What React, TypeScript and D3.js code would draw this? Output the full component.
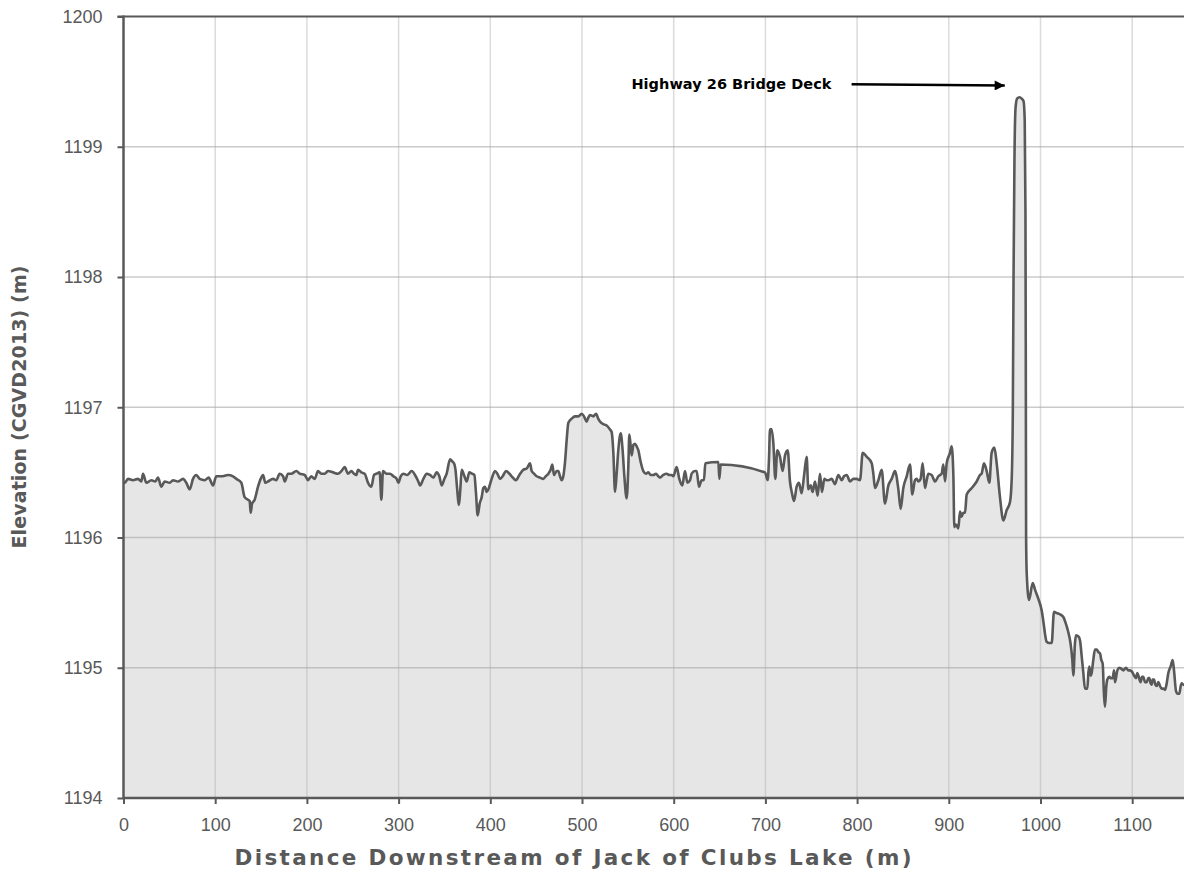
import React, { useEffect, useRef } from 'react'
import * as d3 from 'd3'

// profile, metres
const distance = [
  0, 1.3, 4.9, 10.4, 15.8, 19.4, 21.3, 24.9, 30.4, 34.7, 37.6, 41.3, 44.9, 50.4, 54.0, 59.4, 64.9, 68.5, 72.2, 75.8,
  79.4, 83.1, 88.5, 92.9, 97.6, 101.2, 106.7, 114.0, 119.4, 123.1, 128.5, 132.1, 135.8, 137.6, 138.7, 140.2, 143.0, 146.7, 149.6, 152.2,
  154.7, 157.6, 163.1, 166.7, 170.3, 174.0, 175.8, 179.4, 183.0, 188.5, 192.1, 197.6, 201.2, 204.8, 208.5, 212.1, 215.7, 219.4, 223.0, 228.5,
  233.9, 237.6, 241.2, 244.8, 248.5, 251.4, 253.9, 255.8, 259.4, 263.0, 266.7, 270.3, 273.2, 275.8, 279.4, 281.2, 283.0, 286.7,
  290.6, 294.3, 297.9, 299.7, 302.3, 305.2, 309.5, 314.3, 317.9, 321.5, 323.3, 327.0, 330.6, 334.2, 337.9, 341.5, 344.4, 347.0, 349.9, 352.4,
  356.1, 359.0, 360.4, 362.2, 363.3, 365.9, 367.3, 368.8, 371.3, 374.2, 377.1, 380.0, 382.6, 384.4, 386.2, 388.4, 390.6, 392.4, 394.2, 396.0,
  397.9, 401.5, 405.1, 407.7, 410.6, 413.5, 417.1, 420.8, 423.3, 428.0, 431.7, 436.0, 439.7, 443.3, 445.1, 447.7, 450.6, 454.2, 457.8, 460.4,
  463.3, 465.8, 467.6, 469.5, 472.4, 474.2, 476.0, 477.8, 479.6, 481.5, 483.3, 485.1, 486.9, 489.8, 492.4, 496.0, 499.6, 502.2, 505.1, 506.9,
  508.7, 512.3, 515.3, 517.8, 519.6, 523.3, 526.9, 530.5, 532.3, 534.2, 536.0, 537.8, 539.6, 542.2, 544.3, 546.2, 548.7, 550.5, 551.6, 553.1,
  554.2, 556.0, 557.8, 559.6, 561.4, 564.0, 566.9,
  569.8, 572.3, 574.9, 577.8, 580.7, 583.2, 585.1, 588.7, 592.3, 595.2, 597.8, 599.6, 603.2, 606.1, 609.4, 612.3, 614.9, 617.8, 619.6, 623.2,
  625.0, 627.6, 630.5, 633.0, 634.5, 648.7, 649.8, 651.2, 699.6, 702.5, 703.9, 705.0, 706.8, 708.7, 710.8, 713.0, 715.9, 718.8, 721.4, 724.3,
  726.8, 729.0, 731.2, 734.1, 736.6, 739.5, 742.1, 745.0, 746.8, 749.4, 751.5, 754.1, 757.0, 759.5, 761.7, 764.3, 766.8, 768.6, 772.3, 775.9,
  779.5, 783.2, 785.7, 788.6, 792.3, 795.9, 799.5, 803.2, 806.1, 810.4, 815.9, 817.7, 819.5, 823.2, 826.8, 830.4, 834.1, 837.7, 841.3, 845.0,
  847.5,
  850.4, 854.1, 857.7, 860.2, 863.1, 865.0, 866.8, 869.3, 871.5, 874.0, 875.9, 877.7, 881.3, 885.0, 888.6, 892.2, 894.0, 895.9, 897.7, 901.3,
  903.1, 905.0, 906.0, 907.9, 910.4, 912.2, 914.0, 915.8, 917.7, 919.5, 925.0, 930.4, 934.0, 935.8, 938.4, 941.3, 944.2, 946.7, 949.7, 952.2,
  955.8, 959.5, 963.1, 966.7, 968.6,
  969.8, 970.6, 971.6, 972.8, 974.5, 977.0, 979.5, 981.5, 982.8, 983.6, 984.0, 984.3, 985.0, 987.5, 991.5, 994.0, 997.6,
  1001.3, 1003.8, 1004.9, 1006.7, 1009.6, 1012.2, 1014.7, 1017.6, 1021.3, 1024.9, 1027.1, 1029.3, 1031.4, 1032.9, 1034.7, 1035.8, 1037.6, 1038.7, 1041.3, 1043.1,
  1044.9, 1046.7, 1048.5, 1051.1, 1052.2, 1053.3, 1054.7, 1055.8, 1057.6, 1059.4, 1061.3, 1063.1, 1064.9, 1066.3, 1067.8, 1069.2, 1070.3, 1071.8, 1072.9, 1075.1,
  1076.5, 1078.7, 1080.2, 1081.2, 1082.3, 1083.8, 1086.0, 1088.5, 1090.3, 1093.2, 1095.8, 1097.6, 1099.8, 1102.0, 1104.1, 1105.6, 1106.7, 1109.2, 1110.7, 1112.1,
  1114.0, 1115.8, 1117.6, 1118.7, 1120.1, 1121.2, 1122.3, 1123.8, 1125.2, 1126.7, 1128.5, 1130.3, 1132.1, 1133.9, 1135.8, 1137.6, 1139.4, 1141.9, 1144.1, 1145.6,
  1147.8, 1149.6, 1151.4, 1152.9, 1154.0, 1155.8, 1158.0
]

const elevation = [
  1196.42, 1196.42, 1196.45, 1196.44, 1196.45, 1196.43, 1196.49, 1196.42, 1196.44, 1196.43, 1196.46, 1196.39, 1196.43, 1196.42, 1196.44, 1196.43, 1196.45, 1196.42, 1196.37, 1196.45,
  1196.48, 1196.45, 1196.44, 1196.46, 1196.40, 1196.47, 1196.47, 1196.48, 1196.47, 1196.45, 1196.42, 1196.31, 1196.29, 1196.28, 1196.19, 1196.26, 1196.29, 1196.39, 1196.45, 1196.48,
  1196.42, 1196.43, 1196.45, 1196.44, 1196.49, 1196.47, 1196.43, 1196.49, 1196.49, 1196.51, 1196.49, 1196.48, 1196.44, 1196.47, 1196.45, 1196.51, 1196.49, 1196.49, 1196.51, 1196.50,
  1196.49, 1196.51, 1196.54, 1196.49, 1196.51, 1196.49, 1196.48, 1196.52, 1196.50, 1196.49, 1196.42, 1196.39, 1196.48, 1196.49, 1196.50, 1196.29, 1196.51, 1196.49,
  1196.49, 1196.47, 1196.45, 1196.42, 1196.47, 1196.49, 1196.48, 1196.51, 1196.48, 1196.43, 1196.40, 1196.45, 1196.49, 1196.48, 1196.46, 1196.50, 1196.47, 1196.40, 1196.45, 1196.49,
  1196.60, 1196.58, 1196.57, 1196.51, 1196.42, 1196.25, 1196.37, 1196.52, 1196.48, 1196.43, 1196.50, 1196.49, 1196.48, 1196.34, 1196.17, 1196.26, 1196.31, 1196.38, 1196.39, 1196.35,
  1196.37, 1196.45, 1196.51, 1196.49, 1196.45, 1196.47, 1196.51, 1196.49, 1196.47, 1196.44, 1196.48, 1196.52, 1196.53, 1196.57, 1196.51, 1196.49, 1196.47, 1196.46, 1196.45, 1196.47,
  1196.49, 1196.52, 1196.56, 1196.48, 1196.51, 1196.51, 1196.47, 1196.44, 1196.47, 1196.58, 1196.75, 1196.88, 1196.90, 1196.92, 1196.93, 1196.93, 1196.95, 1196.93, 1196.89, 1196.92,
  1196.94, 1196.93, 1196.95, 1196.91, 1196.89, 1196.87, 1196.86, 1196.83, 1196.81, 1196.65, 1196.35, 1196.49, 1196.67, 1196.80, 1196.67, 1196.47, 1196.30, 1196.54, 1196.79, 1196.70,
  1196.63, 1196.71, 1196.72, 1196.70, 1196.67, 1196.58, 1196.51,
  1196.49, 1196.50, 1196.48, 1196.48, 1196.49, 1196.47, 1196.46, 1196.48, 1196.49, 1196.48, 1196.48, 1196.47, 1196.54, 1196.45, 1196.40, 1196.51, 1196.42, 1196.44, 1196.49, 1196.51,
  1196.51, 1196.39, 1196.44, 1196.44, 1196.57, 1196.58, 1196.45, 1196.56, 1196.50, 1196.44, 1196.60, 1196.83, 1196.83, 1196.72, 1196.45, 1196.67, 1196.62, 1196.51, 1196.63, 1196.67,
  1196.43, 1196.34, 1196.28, 1196.39, 1196.42, 1196.34, 1196.47, 1196.62, 1196.37, 1196.40, 1196.35, 1196.43, 1196.32, 1196.49, 1196.35, 1196.45, 1196.44, 1196.44, 1196.45, 1196.41,
  1196.48, 1196.44, 1196.47, 1196.48, 1196.43, 1196.45, 1196.45, 1196.44, 1196.65, 1196.62, 1196.57, 1196.49, 1196.38, 1196.44, 1196.52, 1196.26, 1196.40, 1196.45, 1196.51, 1196.37,
  1196.22,
  1196.38, 1196.47, 1196.56, 1196.33, 1196.44, 1196.45, 1196.43, 1196.45, 1196.57, 1196.38, 1196.44, 1196.49, 1196.48, 1196.43, 1196.47, 1196.49, 1196.56, 1196.43, 1196.57, 1196.65,
  1196.70, 1196.47, 1196.08, 1196.10, 1196.07, 1196.20, 1196.16, 1196.19, 1196.19, 1196.33, 1196.38, 1196.43, 1196.48, 1196.49, 1196.57, 1196.51, 1196.42, 1196.65, 1196.69, 1196.57,
  1196.31, 1196.13, 1196.21, 1196.27, 1196.45,
  1196.95, 1198.0, 1198.9, 1199.3, 1199.37, 1199.38, 1199.37, 1199.35, 1199.2, 1198.5, 1197.2, 1196.0, 1195.72, 1195.52, 1195.65, 1195.60, 1195.53,
  1195.44, 1195.32, 1195.26, 1195.20, 1195.19, 1195.19, 1195.43, 1195.42, 1195.41, 1195.39, 1195.35, 1195.30, 1195.24, 1195.18, 1195.06, 1194.94, 1195.19, 1195.25, 1195.24, 1195.21,
  1195.09, 1194.96, 1194.84, 1194.84, 1194.96, 1195.01, 1194.94, 1194.96, 1195.06, 1195.14, 1195.14, 1195.12, 1195.11, 1195.06, 1195.03, 1194.80, 1194.70, 1194.86, 1194.91, 1194.93,
  1194.92, 1194.92, 1194.98, 1194.89, 1194.92, 1194.98, 1195.00, 1194.99, 1194.98, 1195.00, 1194.98, 1194.98, 1194.97, 1194.94, 1194.92, 1194.96, 1194.94, 1194.89, 1194.93, 1194.93,
  1194.89, 1194.89, 1194.92, 1194.92, 1194.88, 1194.87, 1194.91, 1194.91, 1194.87, 1194.86, 1194.89, 1194.86, 1194.84, 1194.84, 1194.83, 1194.88, 1194.96, 1195.01, 1195.06, 1194.98,
  1194.82, 1194.80, 1194.80, 1194.86, 1194.88, 1194.87, 1194.87
]

const xTicks = [0, 100, 200, 300, 400, 500, 600, 700, 800, 900, 1000, 1100]
const yTicks = [1194, 1195, 1196, 1197, 1198, 1199, 1200]

const xTitle = 'Distance Downstream of Jack of Clubs Lake (m)'
const yTitle = 'Elevation (CGVD2013) (m)'
const noteLabel = 'Highway 26 Bridge Deck'
// note text end, arrow start and arrow tip, in data units
const noteTextEnd = [772, 1199.48]
const noteArrowFrom = [794, 1199.48]
const noteArrowTo = [961, 1199.47]

const WIDTH = 1184
const HEIGHT = 876
const margin = { top: 16.5, left: 123.5, bottom: 78 }
const axisGrey = '#595959'
const font = '"Liberation Sans", Arial, sans-serif'
const titleFont = '"DejaVu Sans", "Liberation Sans", sans-serif'

const ProfileChart = () => {
  const root = useRef<SVGSVGElement>(null)

  useEffect(() => {
    const svg = d3.select(root.current)
    svg.selectAll('*').remove()

    const bottom = HEIGHT - margin.bottom
    const x = d3.scaleLinear().domain([0, 1200]).range([margin.left, margin.left + 1100.4])
    const y = d3.scaleLinear().domain([1194, 1200]).range([bottom, margin.top])

    const data = distance.map((d, i) => ({ d, e: elevation[i] }))

    svg.append('defs').append('marker')
      .attr('id', 'arrowHead')
      .attr('viewBox', '0 0 10 10')
      .attr('refX', 10)
      .attr('refY', 5)
      .attr('markerWidth', 4.6)
      .attr('markerHeight', 4.2)
      .attr('markerUnits', 'strokeWidth')
      .attr('orient', 'auto')
      .append('path')
      .attr('d', 'M0,0L10,5L0,10Z')
      .attr('fill', '#000')

    // filled area under the profile
    const area = d3.area<{ d: number, e: number }>()
      .x((p) => x(p.d))
      .y0(bottom)
      .y1((p) => y(p.e))
      .curve(d3.curveMonotoneX)
    svg.append('path')
      .datum(data)
      .attr('d', area)
      .attr('fill', '#e6e6e6')

    // gridlines
    const grid = svg.append('g').attr('class', 'grid')
    grid.selectAll('.gx')
      .data(xTicks.filter((t) => t > 0))
      .enter().append('line')
      .attr('x1', (t) => x(t)).attr('x2', (t) => x(t))
      .attr('y1', margin.top).attr('y2', bottom)
      .attr('stroke', '#b0b0b0')
      .attr('stroke-opacity', 0.45)
      .attr('stroke-width', 1.5)
    grid.selectAll('.gy')
      .data(yTicks.filter((t) => t > 1194 && t < 1200))
      .enter().append('line')
      .attr('x1', margin.left).attr('x2', WIDTH)
      .attr('y1', (t) => y(t)).attr('y2', (t) => y(t))
      .attr('stroke', '#a6a6a6')
      .attr('stroke-opacity', 0.6)
      .attr('stroke-width', 1.5)

    // the profile line
    const line = d3.line<{ d: number, e: number }>()
      .x((p) => x(p.d))
      .y((p) => y(p.e))
      .curve(d3.curveMonotoneX)
    svg.append('path')
      .datum(data)
      .attr('d', line)
      .attr('fill', 'none')
      .attr('stroke', axisGrey)
      .attr('stroke-width', 2.6)
      .attr('stroke-linejoin', 'round')

    // top frame
    svg.append('line')
      .attr('x1', margin.left - 6).attr('x2', WIDTH)
      .attr('y1', y(1200)).attr('y2', y(1200))
      .attr('stroke', axisGrey)
      .attr('stroke-width', 2)

    // axes
    const xAxis = svg.append('g')
      .attr('transform', 'translate(0,' + bottom + ')')
      .call(d3.axisBottom(x).tickValues(xTicks).tickSize(6).tickPadding(14).tickFormat(d3.format('d')))
    const yAxis = svg.append('g')
      .attr('transform', 'translate(' + margin.left + ',0)')
      .call(d3.axisLeft(y).tickValues(yTicks).tickSize(6).tickPadding(15).tickFormat(d3.format('d')))

    ;[xAxis, yAxis].forEach((a) => {
      a.select('.domain').remove()
      a.selectAll('line').attr('stroke', axisGrey).attr('stroke-width', 2)
      a.selectAll('text')
        .attr('fill', axisGrey)
        .style('font-family', font)
        .style('font-size', '18px')
    })

    svg.append('line')
      .attr('x1', margin.left).attr('x2', WIDTH)
      .attr('y1', bottom).attr('y2', bottom)
      .attr('stroke', axisGrey)
      .attr('stroke-width', 2.5)
    svg.append('line')
      .attr('x1', margin.left).attr('x2', margin.left)
      .attr('y1', margin.top - 1).attr('y2', bottom + 1)
      .attr('stroke', axisGrey)
      .attr('stroke-width', 2.5)

    // axis titles
    svg.append('text')
      .attr('x', 573)
      .attr('y', 865)
      .attr('text-anchor', 'middle')
      .attr('fill', axisGrey)
      .attr('textLength', 677)
      .attr('lengthAdjust', 'spacing')
      .style('font-family', titleFont)
      .style('font-size', '21.5px')
      .style('font-weight', 'bold')
      .text(xTitle)
    svg.append('text')
      .attr('transform', 'translate(26,' + 407 + ') rotate(-90)')
      .attr('text-anchor', 'middle')
      .attr('fill', axisGrey)
      .attr('textLength', 283)
      .attr('lengthAdjust', 'spacing')
      .style('font-family', titleFont)
      .style('font-size', '19px')
      .style('font-weight', 'bold')
      .text(yTitle)

    // bridge deck note
    svg.append('text')
      .attr('x', x(noteTextEnd[0]))
      .attr('y', y(noteTextEnd[1]) + 5)
      .attr('text-anchor', 'end')
      .attr('fill', '#000')
      .attr('textLength', 200)
      .attr('lengthAdjust', 'spacing')
      .style('font-family', titleFont)
      .style('font-size', '14.5px')
      .style('font-weight', 'bold')
      .text(noteLabel)
    svg.append('line')
      .attr('x1', x(noteArrowFrom[0])).attr('y1', y(noteArrowFrom[1]))
      .attr('x2', x(noteArrowTo[0])).attr('y2', y(noteArrowTo[1]))
      .attr('stroke', '#000')
      .attr('stroke-width', 2.4)
      .attr('marker-end', 'url(#arrowHead)')
  }, [])

  return (
    <svg ref={root} width={WIDTH} height={HEIGHT} style={{ position: 'absolute', left: 0, top: 0, background: '#fff' }} />
  )
}

export default function App () {
  return <ProfileChart />
}
